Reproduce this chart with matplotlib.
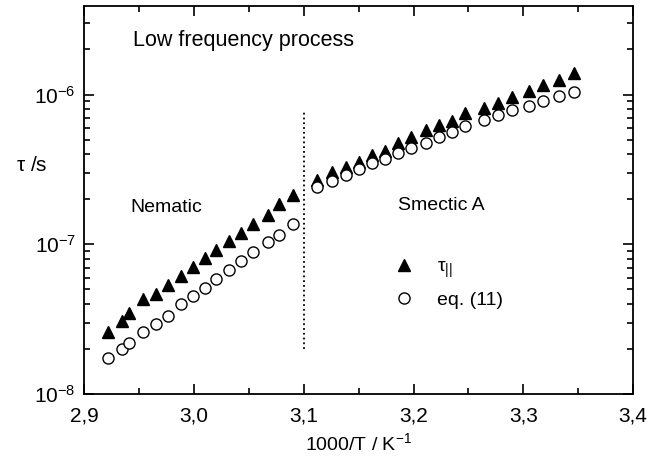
import matplotlib
matplotlib.use("Agg")
import matplotlib.pyplot as plt
import matplotlib.ticker as mticker
import numpy as np

plt.rcParams['font.family'] = ['Liberation Sans', 'DejaVu Sans']
plt.rcParams['mathtext.fontset'] = 'custom'
plt.rcParams['mathtext.rm'] = 'Liberation Sans'
plt.rcParams['mathtext.it'] = 'Liberation Sans:italic'

# nematic phase
x_nem = [2.922, 2.934, 2.941, 2.954, 2.965, 2.976, 2.988, 2.999, 3.010, 3.020,
         3.032, 3.043, 3.054, 3.067, 3.077, 3.090]
tau_nem = [2.59e-8, 3.10e-8, 3.47e-8, 4.29e-8, 4.68e-8, 5.37e-8, 6.14e-8, 7.05e-8,
           8.09e-8, 9.12e-8, 1.05e-7, 1.19e-7, 1.36e-7, 1.58e-7, 1.85e-7, 2.13e-7]
eq_nem = [1.73e-8, 1.99e-8, 2.20e-8, 2.59e-8, 2.95e-8, 3.31e-8, 3.97e-8, 4.49e-8,
          5.13e-8, 5.83e-8, 6.70e-8, 7.69e-8, 8.87e-8, 1.04e-7, 1.15e-7, 1.36e-7]

# smectic A phase
x_sm = [3.112, 3.126, 3.138, 3.150, 3.162, 3.174, 3.186, 3.198, 3.211, 3.223,
        3.235, 3.247, 3.264, 3.277, 3.290, 3.305, 3.318, 3.332, 3.346]
tau_sm = [2.68e-7, 3.05e-7, 3.29e-7, 3.55e-7, 3.94e-7, 4.21e-7, 4.72e-7, 5.22e-7,
          5.79e-7, 6.25e-7, 6.65e-7, 7.48e-7, 8.09e-7, 8.81e-7, 9.66e-7, 1.06e-6,
          1.16e-6, 1.26e-6, 1.39e-6]
eq_sm = [2.42e-7, 2.65e-7, 2.90e-7, 3.16e-7, 3.47e-7, 3.69e-7, 4.05e-7, 4.37e-7,
         4.76e-7, 5.22e-7, 5.64e-7, 6.15e-7, 6.75e-7, 7.29e-7, 7.87e-7, 8.41e-7,
         9.10e-7, 9.77e-7, 1.04e-6]

# phase transition line
x_trans = 3.1
trans_span = [2.0e-8, 7.6e-7]

x_ticks = [2.9, 3.0, 3.1, 3.2, 3.3, 3.4]

fig = plt.figure(figsize=(6.63, 4.61), dpi=100)
ax = fig.add_axes([0.127, 0.145, 0.828, 0.842])

ax.plot(x_nem + x_sm, tau_nem + tau_sm, ls='none', marker='^', ms=9,
        color='black', label=r'$\mathregular{\tau_{||}}$')
ax.plot(x_nem + x_sm, eq_nem + eq_sm, ls='none', marker='o', ms=8,
        mfc='white', mec='black', mew=1.0, label='eq. (11)')
ax.plot([x_trans, x_trans], trans_span, ls=':', color='black', lw=1.3)

ax.set_yscale('log')
ax.set_xlim(2.9, 3.4)
ax.set_ylim(1e-8, 3.9e-6)
ax.set_xticks(x_ticks)
ax.xaxis.set_major_formatter(mticker.FuncFormatter(lambda v, p: ('%.1f' % v).replace('.', ',')))
ax.xaxis.set_minor_locator(mticker.MultipleLocator(0.05))
ax.yaxis.set_major_locator(mticker.LogLocator(base=10, numticks=10))
ax.yaxis.set_minor_locator(mticker.LogLocator(base=10, subs=np.arange(2, 10), numticks=10))
ax.yaxis.set_minor_formatter(mticker.NullFormatter())

ax.tick_params(which='both', direction='in', top=True, right=True, labelsize=15, width=1.2)
ax.tick_params(which='major', length=7)
ax.tick_params(axis='x', which='major', pad=9)
ax.tick_params(axis='y', which='major', pad=6)
ax.tick_params(which='minor', length=4)
for s in ax.spines.values():
    s.set_linewidth(1.3)

ax.set_xlabel(r'1000/T / K$^{\mathregular{-1}}$', fontsize=14, labelpad=5)
ax.set_ylabel(r'$\mathregular{\tau}$ /s', fontsize=15, rotation=0, va='center', ha='center')
ax.yaxis.set_label_coords(-0.095, 0.588)

ax.text(0.089, 0.912, 'Low frequency process', transform=ax.transAxes, fontsize=15.5, va='center')
ax.text(0.085, 0.48, 'Nematic', transform=ax.transAxes, fontsize=14, va='center')
ax.text(0.572, 0.487, 'Smectic A', transform=ax.transAxes, fontsize=14, va='center')

ax.legend(loc='upper left', bbox_to_anchor=(0.533, 0.395), frameon=False, fontsize=14,
          handletextpad=1.2, labelspacing=0.6, handlelength=1.0)

fig.savefig('out.png', dpi=100)
